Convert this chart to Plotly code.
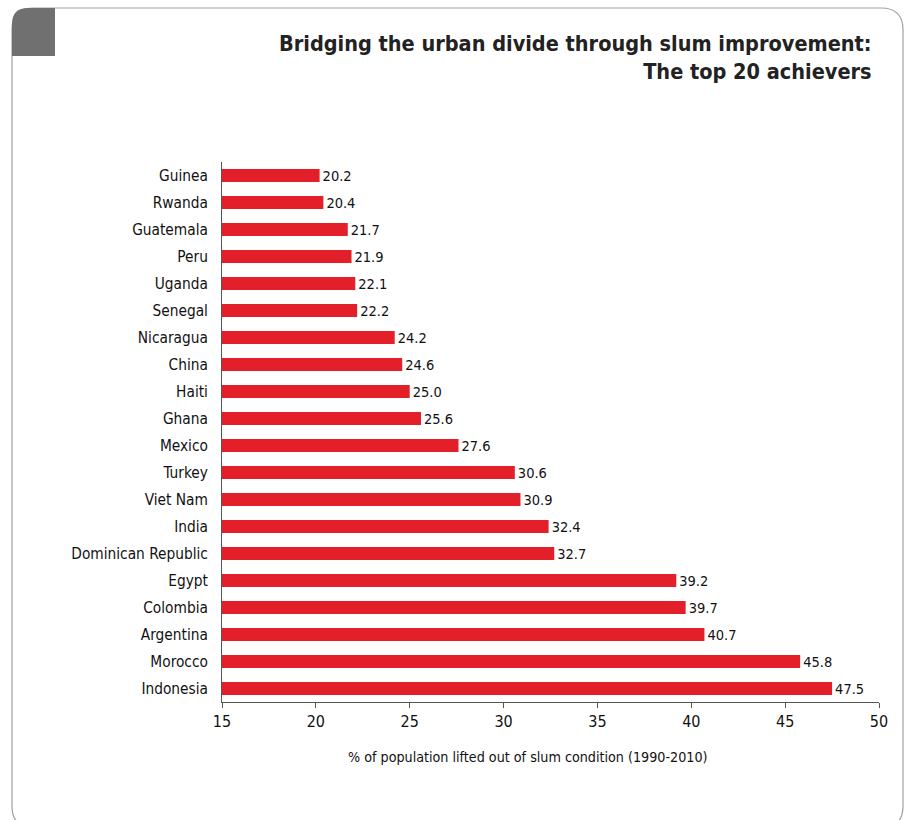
import plotly.graph_objects as go

countries = ["Guinea", "Rwanda", "Guatemala", "Peru", "Uganda", "Senegal", "Nicaragua",
             "China", "Haiti", "Ghana", "Mexico", "Turkey", "Viet Nam", "India",
             "Dominican Republic", "Egypt", "Colombia", "Argentina", "Morocco", "Indonesia"]
values = [20.2, 20.4, 21.7, 21.9, 22.1, 22.2, 24.2, 24.6, 25.0, 25.6, 27.6, 30.6, 30.9,
          32.4, 32.7, 39.2, 39.7, 40.7, 45.8, 47.5]
x_ticks = [15, 20, 25, 30, 35, 40, 45, 50]

W, H = 907, 820
L, R, T, B = 222, 28, 162, 118
pw, ph = W - L - R, H - T - B

def px(x):
    return (x - L) / pw

def py(y):
    return (H - B - y) / ph

narrow = "Liberation Sans Narrow, DejaVu Sans Condensed, Arial"

base = 15
fig = go.Figure(go.Bar(
    y=countries,
    x=[v - base for v in values],
    base=base,
    orientation="h",
    marker=dict(color="#e3202a", line=dict(width=0)),
    width=0.48,
    text=[f"{v:.1f}" for v in values],
    textposition="outside",
    constraintext="none",
    textfont=dict(family=narrow, size=14.5, color="#111"),
    cliponaxis=False,
    hoverinfo="skip",
))

# rounded border path (pixel coords -> paper)
x0, x1, y0, y1, r = 12, 903, 8, 828, 22
path = (f"M {px(x0)},{py(y0 + r)} Q {px(x0)},{py(y0)} {px(x0 + r)},{py(y0)} "
        f"L {px(x1 - r)},{py(y0)} Q {px(x1)},{py(y0)} {px(x1)},{py(y0 + r)} "
        f"L {px(x1)},{py(y1 - r)} Q {px(x1)},{py(y1)} {px(x1 - r)},{py(y1)} "
        f"L {px(x0 + r)},{py(y1)} Q {px(x0)},{py(y1)} {px(x0)},{py(y1 - r)} Z")
gx1, gy1, gr = 55, 56, 16
gpath = (f"M {px(x0)},{py(gy1)} L {px(x0)},{py(y0 + gr)} Q {px(x0)},{py(y0)} {px(x0 + gr)},{py(y0)} "
         f"L {px(gx1)},{py(y0)} L {px(gx1)},{py(gy1)} Z")

fig.update_layout(
    width=W, height=H,
    margin=dict(l=L, r=R, t=T, b=B),
    paper_bgcolor="white", plot_bgcolor="white",
    showlegend=False,
    shapes=[
        dict(type="path", path=path, xref="paper", yref="paper",
             line=dict(color="#a0a0a0", width=1.2), fillcolor="rgba(0,0,0,0)", layer="below"),
        dict(type="path", path=gpath, xref="paper", yref="paper",
             line=dict(width=0), fillcolor="#707070", layer="below"),
    ],
    annotations=[
        dict(text="<b>Bridging the urban divide through slum improvement:<br>The top 20 achievers</b>",
             xref="paper", yref="paper", x=px(874), y=py(29), xanchor="right", yanchor="top",
             align="right", showarrow=False,
             font=dict(family=narrow, size=21.5, color="#222")),
        dict(text="% of population lifted out of slum condition (1990-2010)",
             xref="paper", yref="paper", x=px(528), y=py(757), xanchor="center", yanchor="middle",
             showarrow=False, font=dict(family=narrow, size=14.2, color="#111")),
    ],
    xaxis=dict(
        range=[15, 50], tickvals=x_ticks, ticktext=[str(t) for t in x_ticks],
        showgrid=False, zeroline=False, showline=True, linecolor="#555", linewidth=1,
        ticks="outside", ticklen=5, tickcolor="#555",
        tickfont=dict(family=narrow, size=16, color="#111"),
    ),
    yaxis=dict(
        autorange=False, range=[19.5, -0.5], categoryorder="array", categoryarray=countries,
        showgrid=False, zeroline=False, showline=True, linecolor="#555", linewidth=1,
        ticks="", ticklen=0, ticklabelstandoff=10,
        tickfont=dict(family=narrow, size=15.3, color="#111"),
    ),
    bargap=0.5,
)
fig.write_html("out.html", config={"displayModeBar": False},
               post_script="document.body.style.margin='0';document.body.style.overflow='hidden';")
